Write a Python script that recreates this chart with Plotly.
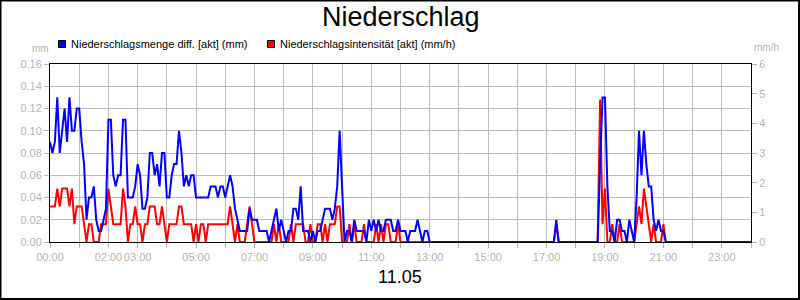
import pandas as pd
import plotly.graph_objects as go

# 5-minute steps of 11.05, 00:00 .. 24:00
times = pd.date_range("2024-05-11 00:00", periods=289, freq="5min")

# Niederschlagsmenge diff. [akt] (mm), one row per hour
menge = [
    .09, .08, .09, .13, .08, .10, .12, .09, .13, .10, .10, .12,
    .12, .09, .07, .02, .04, .04, .05, .02, .01, .01, .02, .03,
    .11, .11, .06, .05, .06, .06, .11, .11, .04, .04, .04, .05,
    .07, .06, .03, .03, .04, .08, .08, .06, .07, .05, .08, .08,
    .04, .04, .06, .07, .07, .10, .08, .05, .06, .05, .06, .06,
    .04, .04, .04, .04, .04, .04, .05, .05, .05, .04, .05, .05,
    .04, .05, .06, .05, .03, .02, .01, .01, .01, .01, .03, .02,
    .02, .02, .01, .01, .01, .01, .00, .01, .02, .03, .01, .02,
    .01, .00, .01, .01, .03, .03, .02, .05, .01, .01, .01, .00,
    .01, .00, .01, .01, .02, .03, .03, .03, .02, .03, .05, .10,
    .05, .00, .01, .01, .00, .02, .01, .01, .01, .01, .00, .02,
    .01, .02, .01, .02, .01, .01, .02, .02, .02, .01, .01, .02,
    .01, .01, .01, .00, .01, .01, .01, .02, .01, .00, .01, .01,
    .00, .00, .00, .00, .00, .00, .00, .00, .00, .00, .00, .00,
    .00, .00, .00, .00, .00, .00, .00, .00, .00, .00, .00, .00,
    .00, .00, .00, .00, .00, .00, .00, .00, .00, .00, .00, .00,
    .00, .00, .00, .00, .00, .00, .00, .00, .00, .00, .00, .00,
    .00, .00, .00, .00, .02, .00, .00, .00, .00, .00, .00, .00,
    .00, .00, .00, .00, .00, .00, .00, .00, .00, .00, .07, .13,
    .13, .05, .01, .01, .00, .02, .02, .01, .01, .00, .02, .01,
    .00, .04, .10, .06, .10, .07, .05, .05, .02, .01, .02, .01,
    .01, .00, .00, .00, .00, .00, .00, .00, .00, .00, .00, .00,
    .00, .00, .00, .00, .00, .00, .00, .00, .00, .00, .00, .00,
    .00, .00, .00, .00, .00, .00, .00, .00, .00, .00, .00, .00,
    .00,
]

# Niederschlagsintensität [akt] (mm/h), one row per hour
intens = [
    1.2, 1.2, 1.2, 1.8, 1.2, 1.8, 1.8, 1.8, 1.2, 1.8, 0.6, 1.2,
    1.2, 1.2, 0.6, 0.0, 0.6, 0.6, 0.0, 0.0, 0.0, 0.6, 0.6, 0.6,
    1.8, 1.2, 0.6, 0.6, 0.6, 0.6, 1.8, 1.2, 0.0, 0.6, 0.6, 1.2,
    0.6, 0.6, 0.0, 0.6, 0.6, 1.2, 1.2, 1.2, 0.6, 0.6, 1.2, 0.6,
    0.0, 0.6, 0.6, 0.6, 0.6, 1.2, 1.2, 0.6, 0.6, 0.6, 0.6, 0.0,
    0.6, 0.0, 0.6, 0.6, 0.0, 0.6, 0.6, 0.6, 0.6, 0.6, 0.6, 0.6,
    0.6, 0.6, 1.2, 0.6, 0.0, 0.6, 0.0, 0.0, 0.0, 0.6, 1.2, 0.6,
    0.0, 0.0, 0.0, 0.0, 0.0, 0.0, 0.0, 0.0, 0.6, 0.0, 0.6, 0.0,
    0.0, 0.0, 0.0, 0.6, 0.0, 0.6, 0.6, 0.6, 0.6, 0.0, 0.0, 0.6,
    0.0, 0.0, 0.6, 0.6, 0.0, 0.6, 0.0, 0.6, 0.6, 0.6, 1.2, 1.2,
    0.0, 0.0, 0.0, 0.6, 0.0, 0.6, 0.0, 0.0, 0.0, 0.6, 0.0, 0.0,
    0.0, 0.0, 0.6, 0.0, 0.6, 0.0, 0.6, 0.6, 0.0, 0.0, 0.0, 0.6,
    0.0, 0.0, 0.0, 0.0, 0.0, 0.0, 0.0, 0.0, 0.0, 0.0, 0.0, 0.0,
    0.0, 0.0, 0.0, 0.0, 0.0, 0.0, 0.0, 0.0, 0.0, 0.0, 0.0, 0.0,
    0.0, 0.0, 0.0, 0.0, 0.0, 0.0, 0.0, 0.0, 0.0, 0.0, 0.0, 0.0,
    0.0, 0.0, 0.0, 0.0, 0.0, 0.0, 0.0, 0.0, 0.0, 0.0, 0.0, 0.0,
    0.0, 0.0, 0.0, 0.0, 0.0, 0.0, 0.0, 0.0, 0.0, 0.0, 0.0, 0.0,
    0.0, 0.0, 0.0, 0.0, 0.6, 0.0, 0.0, 0.0, 0.0, 0.0, 0.0, 0.0,
    0.0, 0.0, 0.0, 0.0, 0.0, 0.0, 0.0, 0.0, 0.0, 0.0, 4.8, 0.6,
    1.8, 0.0, 0.0, 0.6, 0.0, 0.0, 0.6, 0.0, 0.0, 0.0, 0.0, 0.0,
    0.0, 0.6, 1.2, 0.6, 1.8, 1.2, 0.6, 0.0, 0.6, 0.0, 0.0, 0.0,
    0.6, 0.0, 0.0, 0.0, 0.0, 0.0, 0.0, 0.0, 0.0, 0.0, 0.0, 0.0,
    0.0, 0.0, 0.0, 0.0, 0.0, 0.0, 0.0, 0.0, 0.0, 0.0, 0.0, 0.0,
    0.0, 0.0, 0.0, 0.0, 0.0, 0.0, 0.0, 0.0, 0.0, 0.0, 0.0, 0.0,
    0.0,
]

hour_ticks = pd.date_range("2024-05-11 00:00", periods=25, freq="1h")
tick_labels = ["00:00", "", "02:00", "03:00", "", "05:00", "", "07:00", "", "09:00", "",
               "11:00", "", "13:00", "", "15:00", "", "17:00", "", "19:00", "", "21:00",
               "", "23:00", ""]

title_text = "Niederschlag"
date_text = "11.05"
name_menge = "Niederschlagsmenge diff. [akt] (mm)"
name_int = "Niederschlagsintensität [akt] (mm/h)"
unit_left = "mm"
unit_right = "mm/h"

FONT = "Liberation Sans, Arial, sans-serif"
GREY = "#b4b4b4"
W, H = 800, 300
L, R, T, B = 50, 49, 64, 58
PW, PH = W - L - R, H - T - B


def px(xp):
    return (xp - L) / PW


def py(yp):
    return (H - B - yp) / PH


fig = go.Figure()
fig.add_trace(go.Scatter(x=times, y=menge, name=name_menge, yaxis="y2",
                         mode="lines", line=dict(color="#0000ff", width=2),
                         showlegend=False))
fig.add_trace(go.Scatter(x=times, y=intens, name=name_int, yaxis="y",
                         mode="lines", line=dict(color="#ff0000", width=2),
                         showlegend=False))

fig.update_layout(
    width=W, height=H,
    margin=dict(l=L, r=R, t=T, b=B, pad=0),
    paper_bgcolor="white", plot_bgcolor="white",
    font=dict(family=FONT, size=11, color=GREY),
    xaxis=dict(
        type="date",
        range=[hour_ticks[0], hour_ticks[-1]],
        tickmode="array", tickvals=hour_ticks, ticktext=tick_labels,
        tickangle=0,
        showgrid=True, gridcolor="#bcbcbc", gridwidth=1,
        showline=True, linecolor="black", linewidth=1, mirror=True,
        ticks="outside", ticklen=5, tickcolor=GREY,
        tickfont=dict(family=FONT, size=11, color=GREY),
        zeroline=False,
    ),
    yaxis=dict(
        side="right", range=[0, 6], dtick=1, tick0=0,
        showgrid=False, zeroline=False,
        showline=True, linecolor="black", linewidth=1,
        ticks="outside", ticklen=5, tickcolor=GREY,
        tickfont=dict(family=FONT, size=11, color=GREY),
    ),
    yaxis2=dict(
        overlaying="y", side="left", range=[0, 0.16], dtick=0.02, tick0=0,
        tickformat=".2f",
        showgrid=True, gridcolor="#bcbcbc", gridwidth=1, zeroline=False,
        showline=True, linecolor="black", linewidth=1,
        ticks="outside", ticklen=5, tickcolor=GREY,
        tickfont=dict(family=FONT, size=11, color=GREY),
    ),
    showlegend=False,
)

annotations = [
    dict(text=title_text, x=0.5, y=py(17), xref="paper", yref="paper",
         xanchor="center", yanchor="middle", showarrow=False,
         font=dict(family=FONT, size=27, color="black")),
    dict(text=date_text, x=px(400), y=py(277), xref="paper", yref="paper",
         xanchor="center", yanchor="middle", showarrow=False,
         font=dict(family=FONT, size=18, color="black")),
    dict(text=unit_left, x=px(40), y=py(48), xref="paper", yref="paper",
         xanchor="center", yanchor="middle", showarrow=False,
         font=dict(family=FONT, size=10, color=GREY)),
    dict(text=unit_right, x=px(766), y=py(47), xref="paper", yref="paper",
         xanchor="center", yanchor="middle", showarrow=False,
         font=dict(family=FONT, size=10, color=GREY)),
    dict(text=name_menge, x=px(69), y=py(44), xref="paper", yref="paper",
         xanchor="left", yanchor="middle", showarrow=False,
         font=dict(family=FONT, size=11, color="black")),
    dict(text=name_int, x=px(278), y=py(44), xref="paper", yref="paper",
         xanchor="left", yanchor="middle", showarrow=False,
         font=dict(family=FONT, size=11, color="black")),
]
fig.update_layout(annotations=annotations)

shapes = [
    dict(type="rect", xref="paper", yref="paper",
         x0=px(0.5), x1=px(799), y0=py(299), y1=py(0.5),
         line=dict(color="black", width=2), fillcolor="rgba(0,0,0,0)", layer="above"),
    dict(type="rect", xref="paper", yref="paper",
         x0=px(58.5), x1=px(65.5), y0=py(47.5), y1=py(40.5),
         line=dict(color="black", width=1), fillcolor="#0000ff"),
    dict(type="rect", xref="paper", yref="paper",
         x0=px(267.5), x1=px(274.5), y0=py(47.5), y1=py(40.5),
         line=dict(color="black", width=1), fillcolor="#ff0000"),
]
fig.update_layout(shapes=shapes)

fig.write_html("out.html")
